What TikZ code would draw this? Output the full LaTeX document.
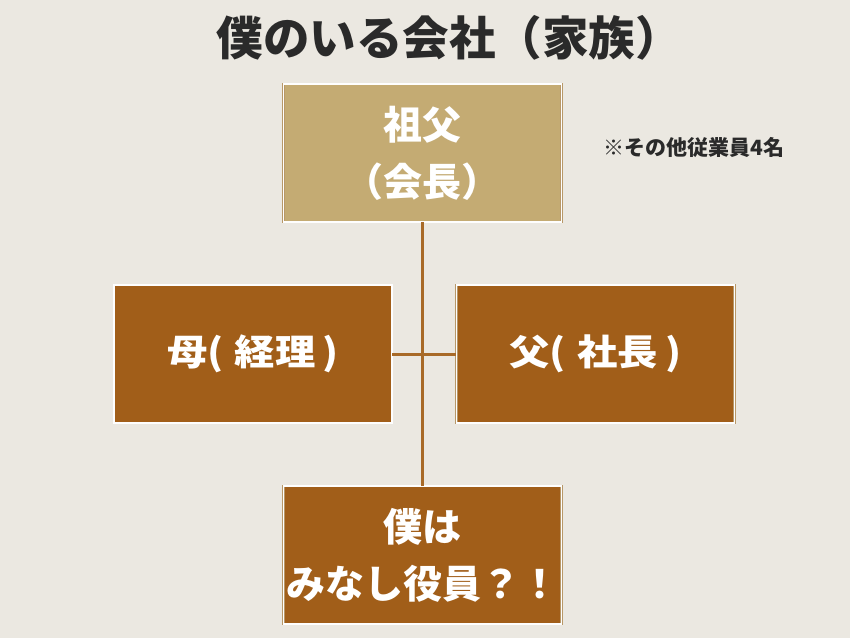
\documentclass[tikz,border=0pt]{standalone}
\usepackage{fontspec}
\newfontfamily\jp{Noto Sans CJK JP}
\definecolor{bgc}{HTML}{EBE8E1}
\definecolor{goldbox}{HTML}{C4AB73}
\definecolor{brownbox}{HTML}{A15E19}
\definecolor{edgec}{HTML}{B89868}
\definecolor{linec}{HTML}{A86A28}
\definecolor{titlec}{HTML}{2A2A2A}
\tikzset{
  boxbase/.style={rectangle, minimum width=278pt, minimum height=138pt, draw=edgec, line width=0.6pt, double=white!95!bgc, double distance=1.6pt, align=center, text=white, font=\jp\bfseries\fontsize{39}{57}\selectfont, inner sep=0pt},
  goldstyle/.style={boxbase, fill=goldbox},
  brownstyle/.style={boxbase, fill=brownbox},
  conn/.style={draw=linec, line width=3pt}
}
\newcommand{\widetext}[1]{\scalebox{1.12}[1]{\fontsize{36}{40}\selectfont #1}}
\begin{document}
\begin{tikzpicture}[x=1pt,y=-1pt]
\fill[bgc] (0,0) rectangle (850,638);
\useasboundingbox (0,0) rectangle (850,638);
\node[text=titlec, font=\jp\bfseries\fontsize{46.5}{50}\selectfont] (title) at (449,38) {僕のいる会社（家族）};
\node[font=\jp\bfseries\fontsize{21}{24}\selectfont, text=titlec] (note) at (694,147) {※その他従業員4名};
\node[goldstyle] (gf) at (422.5,153) {祖父\\（会長）};
\node[brownstyle] (mo) at (253,354) {\widetext{母(\hspace{0.28em}経理\hspace{0.18em})}};
\node[brownstyle] (fa) at (595.5,354) {\widetext{父(\hspace{0.28em}社長\hspace{0.18em})}};
\node[brownstyle] (me) at (422.5,555) {僕は\\みなし役員？！};
\draw[conn] (gf.south) -- (me.north);
\draw[conn] (mo.east) -- (fa.west);
\end{tikzpicture}
\end{document}
